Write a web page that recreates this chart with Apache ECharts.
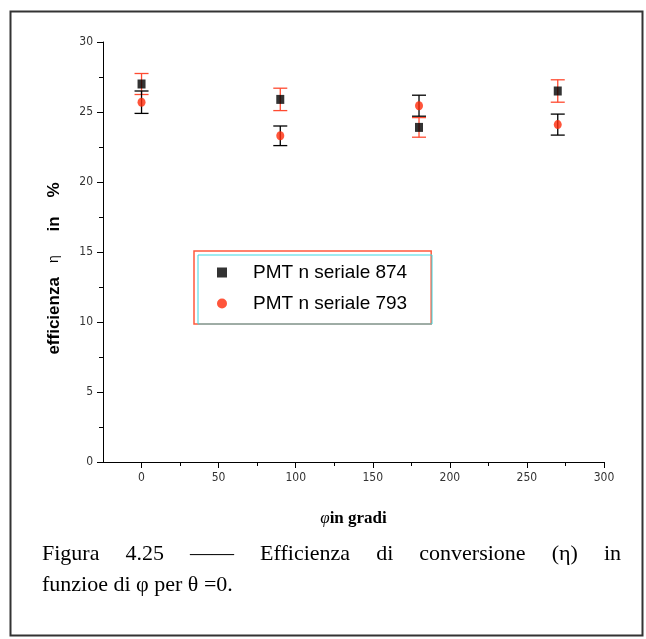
<!DOCTYPE html>
<html>
<head>
<meta charset="utf-8">
<title>Efficienza di conversione</title>
<script src="https://cdn.jsdelivr.net/npm/echarts@6/dist/echarts.min.js"></script>
<style>
  html, body { margin: 0; padding: 0; background: #fff; }
  #chart { width: 646px; height: 639px; }
</style>
</head>
<body>
<div id="chart"></div>
<script>
// angle phi (degrees)
const phi = [0, 90, 180, 270]
// PMT 874 (black squares) and PMT 793 (red circles), efficiency in %
const eff874 = [27.0, 25.9, 23.9, 26.5]
const err874 = [0.75, 0.8, 0.7, 0.8]
const eff793 = [25.7, 23.3, 25.45, 24.1]
const err793 = [0.8, 0.7, 0.75, 0.75]
const seriesNames = ['PMT n seriale 874', 'PMT n seriale 793']
const xMajorTicks = [0, 50, 100, 150, 200, 250, 300]
const xMinorTicks = [25, 75, 125, 175, 225, 275]
const captionLine1 = ['Figura', '4.25', '——', 'Efficienza', 'di', 'conversione', '(η)', 'in']
const captionLine2 = 'funzioe di φ per θ =0.'

const chart = echarts.init(document.getElementById('chart'))

const black = '#000'
const red = '#ff2a0a'
const redBar = '#ff4a30'

function errorBars(color) {
  return function(params, api) {
    const x = api.value(0)
    const y = api.value(1)
    const e = api.value(2)
    const top = api.coord([x, y + e])
    const bot = api.coord([x, y - e])
    const w = 7
    const style = { stroke: color, lineWidth: 1.3 }
    return {
      type: 'group',
      children: [
        { type: 'line', shape: { x1: top[0], y1: top[1], x2: bot[0], y2: bot[1] }, style },
        { type: 'line', shape: { x1: top[0] - w, y1: top[1], x2: top[0] + w, y2: top[1] }, style },
        { type: 'line', shape: { x1: bot[0] - w, y1: bot[1], x2: bot[0] + w, y2: bot[1] }, style }
      ]
    }
  }
}

// justify first caption line between left and right
const capFont = '22px "Liberation Serif", "Times New Roman", serif'
const ctx = document.createElement('canvas').getContext('2d')
ctx.font = capFont
const capLeft = 42
const capRight = 621
const widths = captionLine1.map(w => ctx.measureText(w).width)
const gap = (capRight - capLeft - widths.reduce((a, b) => a + b, 0)) / (captionLine1.length - 1)
const captionWords = []
let cx = capLeft
captionLine1.forEach((w, i) => {
  captionWords.push({
    type: 'text',
    left: cx,
    top: 543,
    style: { text: w, font: capFont, fill: '#000' }
  })
  cx += widths[i] + gap
})

const axisFont = '"DejaVu Sans Condensed", "Liberation Sans Narrow", "Liberation Sans", sans-serif'

chart.setOption({
  animation: false,
  grid: {
    left: 103,
    right: 42,
    top: 42,
    bottom: 177
  },
  legend: {
    data: seriesNames,
    orient: 'vertical',
    left: 194,
    top: 251,
    padding: [12, 24, 11, 23],
    itemGap: 12,
    itemWidth: 10,
    itemHeight: 10,
    borderColor: '#ff5a3c',
    borderWidth: 1.5,
    textStyle: {
      fontFamily: 'Liberation Sans, Arial, sans-serif',
      fontSize: 19,
      color: '#000',
      padding: [0, 0, 0, 21]
    }
  },
  xAxis: [
    {
      type: 'value',
      min: -25,
      max: 300,
      name: '{p|φ}{t|in gradi}',
      nameLocation: 'middle',
      nameGap: 48,
      nameTextStyle: {
        rich: {
          p: { fontFamily: 'Liberation Serif, serif', fontSize: 17, fontStyle: 'italic', color: '#000' },
          t: { fontFamily: 'Liberation Serif, serif', fontSize: 17, fontWeight: 'bold', color: '#000' }
        }
      },
      splitLine: { show: false },
      axisLine: { onZero: false, lineStyle: { color: black, width: 1 } },
      axisTick: { customValues: xMajorTicks, length: 6, lineStyle: { color: black } },
      axisLabel: {
        customValues: xMajorTicks,
        margin: 10,
        fontFamily: axisFont,
        fontSize: 12,
        color: '#333'
      }
    },
    {
      type: 'value',
      min: -25,
      max: 300,
      position: 'bottom',
      splitLine: { show: false },
      axisLine: { show: false, onZero: false },
      axisTick: { customValues: xMinorTicks, length: 4, lineStyle: { color: black } },
      axisLabel: { show: false }
    }
  ],
  yAxis: {
    type: 'value',
    min: 0,
    max: 30,
    interval: 5,
    name: '{b|efficienza   }{e|η}{b|     in    %       }',
    nameLocation: 'middle',
    nameGap: 40,
    nameTextStyle: {
      rich: {
        b: { fontFamily: 'Liberation Sans, Arial, sans-serif', fontSize: 17, fontWeight: 'bold', color: '#000' },
        e: { fontFamily: 'Liberation Sans, Arial, sans-serif', fontSize: 14, color: '#000' }
      }
    },
    splitLine: { show: false },
    axisLine: { show: true, onZero: false, lineStyle: { color: black, width: 1 } },
    axisTick: { length: 6, lineStyle: { color: black } },
    minorTick: { show: true, splitNumber: 2, length: 4, lineStyle: { color: black } },
    axisLabel: {
      margin: 10,
      fontFamily: axisFont,
      fontSize: 12,
      color: '#333'
    }
  },
  series: [
    {
      type: 'custom',
      name: 'err874',
      renderItem: errorBars(redBar),
      data: phi.map((p, i) => [p, eff874[i], err874[i]]),
      z: 1
    },
    {
      type: 'custom',
      name: 'err793',
      renderItem: errorBars(black),
      data: phi.map((p, i) => [p, eff793[i], err793[i]]),
      z: 1
    },
    {
      type: 'scatter',
      name: seriesNames[0],
      symbol: 'rect',
      symbolSize: [8, 9],
      itemStyle: { color: black },
      data: phi.map((p, i) => [p, eff874[i]]),
      z: 3
    },
    {
      type: 'scatter',
      name: seriesNames[1],
      symbol: 'circle',
      symbolSize: [8, 9],
      itemStyle: { color: red },
      data: phi.map((p, i) => [p, eff793[i]]),
      z: 3
    }
  ],
  graphic: [
    {
      type: 'rect',
      left: 8,
      top: 9,
      shape: { width: 632, height: 624 },
      style: { fill: 'none', stroke: '#333', lineWidth: 2 },
      z: 0
    },
    {
      type: 'rect',
      left: 195.5,
      top: 252.5,
      shape: { width: 234, height: 69 },
      style: { fill: 'none', stroke: '#3fd8e0', lineWidth: 1 },
      z: 10
    },
    ...captionWords,
    {
      type: 'text',
      left: capLeft,
      top: 574,
      style: { text: captionLine2, font: capFont, fill: '#000' }
    }
  ]
})
</script>
</body>
</html>
